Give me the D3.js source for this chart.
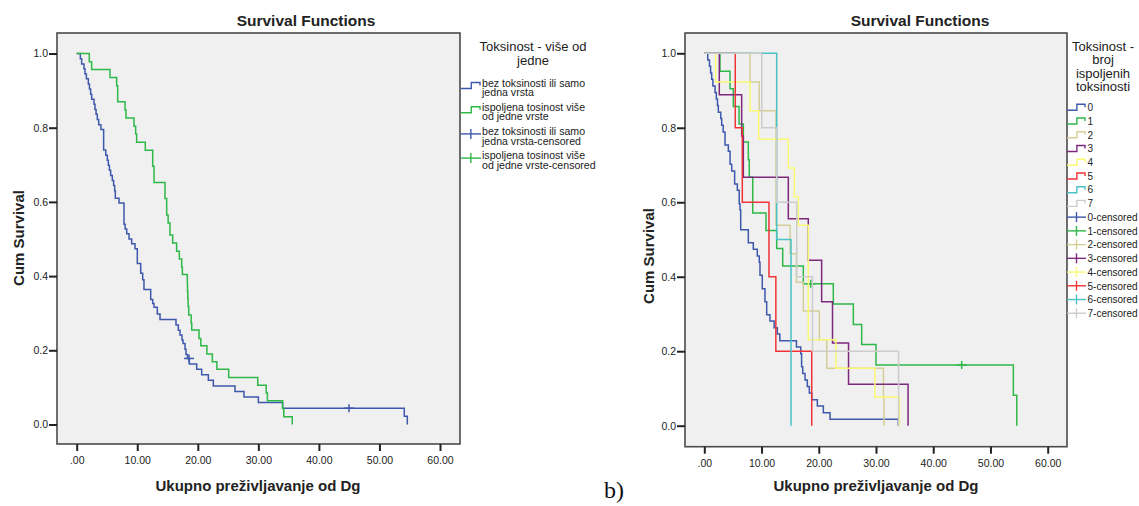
<!DOCTYPE html>
<html><head><meta charset="utf-8">
<script src="https://cdn.jsdelivr.net/npm/d3@7"></script>
<style>
body{margin:0;background:#fff;}
svg{display:block;font-family:"Liberation Sans",Arial,sans-serif;}
</style>
</head><body>
<svg id="c" width="1139" height="506"></svg>
<script>
// ---------------- DATA ----------------
const xTickValues = [0, 10, 20, 30, 40, 50, 60];
const xTickLabels = [".00", "10.00", "20.00", "30.00", "40.00", "50.00", "60.00"];
const yTickValues = [0, 0.2, 0.4, 0.6, 0.8, 1.0];
const yTickLabels = ["0.0", "0.2", "0.4", "0.6", "0.8", "1.0"];

const chartTitle = "Survival Functions";
const xTitle = "Ukupno preživljavanje od Dg";
const yTitle = "Cum Survival";

// Left chart
const leftLegendTitle = ["Toksinost - više od", "jedne"];
const leftLegendItems = [
  ["bez toksinosti ili samo", "jedna vrsta"],
  ["ispoljena tosinost više", "od jedne vrste"],
  ["bez toksinosti ili samo", "jedna vrsta-censored"],
  ["ispoljena tosinost više", "od jedne vrste-censored"]
];
const leftBlueTimes = [0.6,0.82,1.2,1.37,1.6,1.92,2.1,2.3,2.47,2.86,3.02,3.2,3.4,3.63,4.0,4.45,4.8,5.06,5.22,5.4,5.61,5.88,6.1,6.27,6.38,6.99,7.81,8.0,8.26,8.64,9.08,9.63,10.01,10.57,10.9,11.11,12.22,12.55,12.77,13.31,13.76,16.4,16.78,17.06,17.39,17.56,17.89,18.05,18.3,18.6,19.82,20.64,21.74,22.56,26.14,27.63,30.0,34.02,54.1,54.6];
const leftBlueSurv = [0.986,0.972,0.959,0.945,0.932,0.918,0.904,0.890,0.877,0.863,0.849,0.836,0.822,0.808,0.795,0.740,0.726,0.712,0.699,0.685,0.671,0.658,0.644,0.630,0.610,0.597,0.540,0.527,0.514,0.500,0.487,0.474,0.434,0.408,0.390,0.364,0.337,0.326,0.316,0.298,0.283,0.268,0.254,0.241,0.228,0.218,0.203,0.189,0.178,0.163,0.149,0.134,0.119,0.104,0.089,0.074,0.059,0.044,0.022,0];
const leftBlueCensorTimes = [18.55, 44.97];
const leftBlueCensorSurv = [0.178, 0.044];
const leftGreenTimes = [2.08,2.47,5.5,6.6,6.77,7.98,8.14,9.46,9.74,9.9,11.33,12.55,12.77,14.58,14.86,15.1,15.4,15.85,16.5,16.95,17.34,17.45,18.27,18.3,18.35,18.4,18.5,18.9,19.0,20.2,20.5,21.5,22.4,23.15,25.1,29.9,31.3,31.5,34.0,34.2,35.6];
const leftGreenSurv = [0.978,0.957,0.935,0.913,0.870,0.848,0.826,0.804,0.783,0.761,0.739,0.696,0.652,0.609,0.565,0.543,0.511,0.489,0.467,0.446,0.424,0.404,0.380,0.360,0.340,0.318,0.295,0.273,0.255,0.232,0.212,0.190,0.169,0.149,0.127,0.106,0.085,0.064,0.043,0.021,0];
const leftGreenCensorTimes = [];
const leftGreenCensorSurv = [];

// Right chart
const rightLegendTitle = ["Toksinost -", "broj", "ispoljenih", "toksinosti"];
const rightGroups = ["0", "1", "2", "3", "4", "5", "6", "7"];
const r0Times = [0.6,0.9,1.1,1.29,1.5,1.88,2.1,2.3,2.45,2.87,3.04,3.3,3.62,4.2,4.5,4.79,5.3,5.77,6.1,6.24,6.36,7.69,8.56,9.26,9.6,9.73,10.13,10.6,10.9,11.47,12.2,12.76,13.2,16.1,16.85,17.0,17.2,17.6,18.0,18.35,18.77,19.75,20.8,21.97,33.9];
const r0Surv = [0.982,0.965,0.947,0.930,0.912,0.895,0.877,0.860,0.842,0.825,0.807,0.789,0.754,0.737,0.702,0.684,0.649,0.632,0.596,0.579,0.526,0.491,0.474,0.456,0.439,0.404,0.368,0.333,0.298,0.281,0.263,0.246,0.228,0.211,0.193,0.158,0.140,0.123,0.105,0.088,0.070,0.053,0.035,0.0175,0];
const r1Times = [2.74,4.49,5.07,6.07,6.82,7.69,7.86,8.46,10.78,12.65,13.7,17.3,22.54,26.04,27.5,30.0,54.0,54.6];
const r1Surv = [0.952,0.905,0.857,0.810,0.762,0.714,0.667,0.571,0.524,0.476,0.429,0.381,0.327,0.272,0.218,0.163,0.082,0];
const r1CensorTimes = [18.6, 44.97];
const r1CensorSurv = [0.381, 0.163];
const r2Times = [7.98,9.6,12.53,15.0,16.1,17.3,20.1,21.4,31.3,31.4];
const r2Surv = [0.923,0.846,0.538,0.462,0.385,0.308,0.231,0.154,0.077,0];
const r3Times = [2.62,6.53,6.82,14.68,18.17,20.5,22.4,25.2,35.6];
const r3Surv = [0.889,0.778,0.667,0.556,0.444,0.333,0.222,0.111,0];
const r4Times = [2.0,7.98,9.5,14.68,15.73,16.43,18.17,23.0,29.8,34.1];
const r4Surv = [0.923,0.846,0.769,0.692,0.615,0.538,0.231,0.154,0.077,0];
const r5Times = [5.41,6.64,11.3,12.5,18.77];
const r5Surv = [0.8,0.6,0.4,0.2,0];
const r6Times = [12.65,15.15];
const r6Surv = [0.5,0];
const r7Times = [10.04,12.65,16.15,18.9,33.95];
const r7Surv = [0.8,0.6,0.4,0.2,0];

const panelLabel = "b)";

// ---------------- STYLE ----------------
const palette = ["#3E58AC", "#2EB848", "#D3CE97", "#7C287D", "#FBF873", "#EF3338", "#48C2C5", "#CCCCCC"];

const svg = d3.select("#c");

function stepPoints(times, surv) {
  const pts = [[0, 1]];
  times.forEach((t, i) => pts.push([t, surv[i]]));
  return pts;
}

function drawPanel(opt) {
  const g = svg.append("g");
  const x = d3.scaleLinear().domain([0, 60]).range(opt.xRange);
  const y = d3.scaleLinear().domain([0, 1]).range(opt.yRange);
  const f = opt.frame;
  g.append("rect").attr("x", f.x0).attr("y", f.y0).attr("width", f.x1 - f.x0).attr("height", f.y1 - f.y0)
    .attr("fill", "#F0F0F0").attr("stroke", "#4a4a4a").attr("stroke-width", 1.6);

  const ya = d3.axisLeft(y).tickValues(yTickValues).tickFormat((d, i) => yTickLabels[i]).tickSize(8).tickPadding(1);
  const yg = g.append("g").attr("transform", `translate(${f.x0},0)`).call(ya);
  yg.select(".domain").remove();
  yg.selectAll(".tick line").attr("stroke", "#222").attr("stroke-width", 2);
  yg.selectAll(".tick text").attr("font-size", 10.5).attr("fill", "#222").attr("font-family", "Liberation Sans, Arial, sans-serif");

  const xa = d3.axisBottom(x).tickValues(xTickValues).tickFormat((d, i) => xTickLabels[i]).tickSize(7).tickPadding(6);
  const xg = g.append("g").attr("transform", `translate(0,${f.y1})`).call(xa);
  xg.select(".domain").remove();
  xg.selectAll(".tick line").attr("stroke", "#222").attr("stroke-width", 2);
  xg.selectAll(".tick text").attr("font-size", 10.5).attr("fill", "#222").attr("font-family", "Liberation Sans, Arial, sans-serif");

  const line = d3.line().x(d => x(d[0])).y(d => y(d[1])).curve(d3.curveStepAfter);
  opt.series.forEach(s => {
    g.append("path").datum(stepPoints(s.times, s.surv)).attr("d", line)
      .attr("fill", "none").attr("stroke", s.color).attr("stroke-width", 1.5);
    (s.cTimes || []).forEach((t, i) => {
      const cx = x(t), cy = y(s.cSurv[i]);
      g.append("line").attr("x1", cx).attr("x2", cx).attr("y1", cy - 4).attr("y2", cy + 4)
        .attr("stroke", s.color).attr("stroke-width", 1.5);
      g.append("line").attr("x1", cx - 5).attr("x2", cx + 5).attr("y1", cy).attr("y2", cy)
        .attr("stroke", s.color).attr("stroke-width", 1.5);
    });
  });

  svg.append("text").attr("x", opt.titleX).attr("y", 26).attr("text-anchor", "middle")
    .attr("font-weight", "bold").attr("font-size", 15.5).attr("fill", "#222").text(chartTitle);
  svg.append("text").attr("x", opt.xTitleX).attr("y", 491).attr("text-anchor", "middle")
    .attr("font-weight", "bold").attr("font-size", 15).attr("fill", "#222").text(xTitle);
  svg.append("text").attr("transform", `translate(${opt.yTitleX},${opt.yTitleY}) rotate(-90)`)
    .attr("text-anchor", "middle").attr("font-weight", "bold").attr("font-size", 15).attr("fill", "#222").text(yTitle);
}

// left panel
drawPanel({
  frame: {x0: 57, x1: 460, y0: 33, y1: 444},
  xRange: [76.7, 440], yRange: [424.5, 53.5],
  titleX: 306, xTitleX: 258, yTitleX: 24, yTitleY: 238,
  series: [
    {times: leftBlueTimes, surv: leftBlueSurv, color: palette[0], cTimes: leftBlueCensorTimes, cSurv: leftBlueCensorSurv},
    {times: leftGreenTimes, surv: leftGreenSurv, color: palette[1], cTimes: leftGreenCensorTimes, cSurv: leftGreenCensorSurv}
  ]
});

// right panel
const rTimes = [r0Times, r1Times, r2Times, r3Times, r4Times, r5Times, r6Times, r7Times];
const rSurv = [r0Surv, r1Surv, r2Surv, r3Surv, r4Surv, r5Surv, r6Surv, r7Surv];
drawPanel({
  frame: {x0: 685, x1: 1067, y0: 33, y1: 446.7},
  xRange: [704.3, 1047.7], yRange: [425.7, 53.3],
  titleX: 920, xTitleX: 876, yTitleX: 654, yTitleY: 256,
  series: rightGroups.map((gname, i) => ({
    times: rTimes[i], surv: rSurv[i], color: palette[i],
    cTimes: i === 1 ? r1CensorTimes : [], cSurv: i === 1 ? r1CensorSurv : []
  }))
});

// legends
function stepIcon(g, x0, x1, yc, color) {
  const mid = x0 + (x1 - x0) * 0.52;
  g.append("path").attr("d", `M${x0},${yc + 3}H${mid}V${yc - 3}H${x1 - 1}V${yc}`)
    .attr("fill", "none").attr("stroke", color).attr("stroke-width", 1.4);
}
function censorIcon(g, x0, x1, yc, color) {
  const mid = (x0 + x1) / 2;
  g.append("line").attr("x1", x0).attr("x2", x1).attr("y1", yc).attr("y2", yc).attr("stroke", color).attr("stroke-width", 1.4);
  g.append("line").attr("x1", mid).attr("x2", mid).attr("y1", yc - 5).attr("y2", yc + 5).attr("stroke", color).attr("stroke-width", 1.4);
}

// left legend
const lg = svg.append("g");
leftLegendTitle.forEach((t, i) => {
  lg.append("text").attr("x", 533).attr("y", 51 + i * 14).attr("text-anchor", "middle")
    .attr("font-size", 13).attr("fill", "#222").text(t);
});
leftLegendItems.forEach((lines, i) => {
  const yc = 87 + i * 24.2;
  const col = palette[i % 2];
  if (i < 2) stepIcon(lg, 460.7, 481, yc - 1.5, col); else censorIcon(lg, 460.7, 481, yc - 1.5, col);
  lines.forEach((t, j) => {
    lg.append("text").attr("x", 482).attr("y", yc - 0.5 + j * 9.6).attr("font-size", 10.6)
      .attr("fill", "#222").text(t);
  });
});

// right legend
const rg = svg.append("g");
rightLegendTitle.forEach((t, i) => {
  rg.append("text").attr("x", 1103).attr("y", 51 + i * 13.3).attr("text-anchor", "middle")
    .attr("font-size", 13).attr("fill", "#222").text(t);
});
const rightLegendLabels = rightGroups.concat(rightGroups.map(gname => gname + "-censored"));
rightLegendLabels.forEach((t, i) => {
  const yc = 107.3 + i * 13.73;
  const col = palette[i % 8];
  if (i < 8) stepIcon(rg, 1067, 1086, yc, col); else censorIcon(rg, 1067, 1086, yc, col);
  rg.append("text").attr("x", 1087.5).attr("y", yc + 3.8).attr("font-size", 10).attr("fill", "#222").text(t);
});

svg.append("text").attr("x", 604).attr("y", 498).attr("font-size", 24)
  .attr("font-family", "Liberation Serif, DejaVu Serif, serif").attr("fill", "#111").text(panelLabel);
</script>
</body></html>
